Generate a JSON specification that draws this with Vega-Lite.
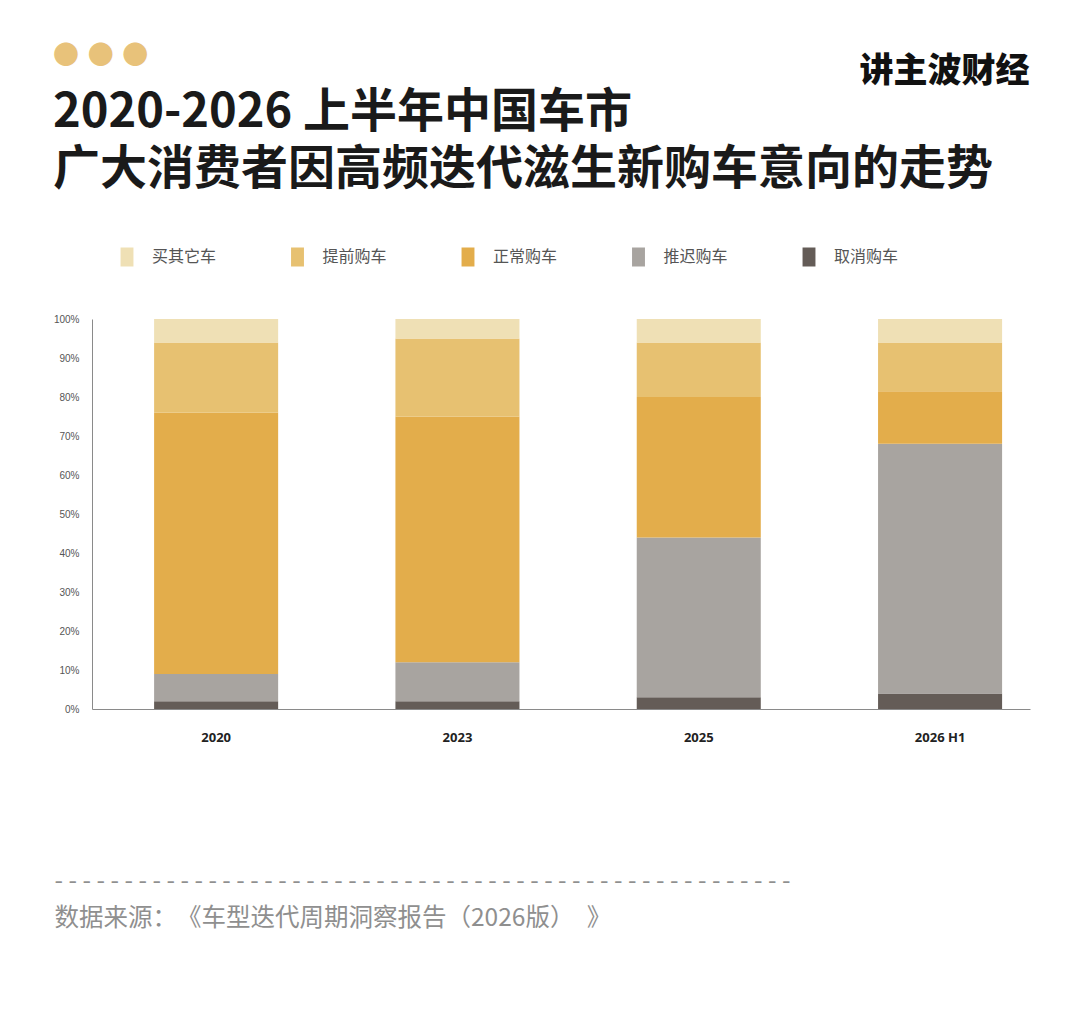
{
  "$schema": "https://vega.github.io/schema/vega-lite/v6.json",
  "autosize": {"type": "none"},
  "width": 938,
  "height": 390,
  "padding": {"top": 319, "left": 92, "right": 50, "bottom": 314},
  "background": "#ffffff",
  "data": {
    "values": [
      {"period": "2020", "cat": "取消购车", "k": 1, "pct": 2},
      {"period": "2020", "cat": "推迟购车", "k": 2, "pct": 7},
      {"period": "2020", "cat": "正常购车", "k": 3, "pct": 67},
      {"period": "2020", "cat": "提前购车", "k": 4, "pct": 18},
      {"period": "2020", "cat": "买其它车", "k": 5, "pct": 6},
      {"period": "2023", "cat": "取消购车", "k": 1, "pct": 2},
      {"period": "2023", "cat": "推迟购车", "k": 2, "pct": 10},
      {"period": "2023", "cat": "正常购车", "k": 3, "pct": 63},
      {"period": "2023", "cat": "提前购车", "k": 4, "pct": 20},
      {"period": "2023", "cat": "买其它车", "k": 5, "pct": 5},
      {"period": "2025", "cat": "取消购车", "k": 1, "pct": 3},
      {"period": "2025", "cat": "推迟购车", "k": 2, "pct": 41},
      {"period": "2025", "cat": "正常购车", "k": 3, "pct": 36},
      {"period": "2025", "cat": "提前购车", "k": 4, "pct": 14},
      {"period": "2025", "cat": "买其它车", "k": 5, "pct": 6},
      {"period": "2026 H1", "cat": "取消购车", "k": 1, "pct": 4},
      {"period": "2026 H1", "cat": "推迟购车", "k": 2, "pct": 64},
      {"period": "2026 H1", "cat": "正常购车", "k": 3, "pct": 13.5},
      {"period": "2026 H1", "cat": "提前购车", "k": 4, "pct": 12.5},
      {"period": "2026 H1", "cat": "买其它车", "k": 5, "pct": 6}
    ]
  },
  "mark": {"type": "bar"},
  "encoding": {
    "x": {
      "field": "period",
      "type": "nominal",
      "sort": ["2020", "2023", "2025", "2026 H1"],
      "scale": {"paddingInner": 0.486, "paddingOuter": 0.1865, "align": 0.69},
      "axis": {
        "labelAngle": 0,
        "labelFont": "Open Sans",
        "labelFontSize": 13,
        "labelFontWeight": "bold",
        "labelColor": "#222222",
        "labelPadding": 22,
        "ticks": false,
        "domainColor": "#8a8a8a",
        "domainWidth": 1,
        "title": ["- - - - - - - - - - - - - - - - - - - - - - - - - - - - - - - - - - - - - - - - - - - - - - - - - - - - -", "数据来源：\u200b《车型迭代周期洞察报告（2026版）\u2002》"],
        "titleFont": "Noto Sans CJK SC",
        "titleFontSize": 24.5,
        "titleFontWeight": "normal",
        "titleColor": "#8f8f8f",
        "titleAlign": "left",
        "titleAnchor": "start",
        "titleX": -38,
        "titleY": 179,
        "titleBaseline": "alphabetic",
        "titleLineHeight": 37
      }
    },
    "y": {
      "field": "pct",
      "type": "quantitative",
      "stack": "zero",
      "scale": {"domain": [0, 100], "nice": false},
      "axis": {
        "values": [0, 10, 20, 30, 40, 50, 60, 70, 80, 90, 100],
        "labelExpr": "datum.value + '%'",
        "labelFont": "Liberation Sans",
        "labelFontSize": 10,
        "labelColor": "#555555",
        "labelPadding": 13,
        "ticks": false,
        "grid": false,
        "domainColor": "#8a8a8a",
        "domainWidth": 1,
        "title": "讲主波财经",
        "titleAngle": 0,
        "titleX": 852,
        "titleY": -248,
        "titleAlign": "center",
        "titleBaseline": "middle",
        "titleFont": "Noto Sans CJK SC",
        "titleFontSize": 34,
        "titleFontWeight": 900,
        "titleColor": "#111111"
      }
    },
    "color": {
      "field": "cat",
      "type": "nominal",
      "scale": {
        "domain": ["买其它车", "提前购车", "正常购车", "推迟购车", "取消购车"],
        "range": ["#efe0b5", "#e7c171", "#e3ad4b", "#a8a4a0", "#645c57"]
      },
      "legend": {
        "orient": "none",
        "legendX": 25.5,
        "legendY": -71.5,
        "direction": "horizontal",
        "title": null,
        "symbolType": "M-0.68,-1H0.68V1H-0.68Z",
        "symbolSize": 361,
        "symbolStrokeWidth": 0,
        "labelFont": "Noto Sans CJK SC",
        "labelFontSize": 16,
        "labelColor": "#555555",
        "labelOffset": 15.5,
        "columnPadding": 71.5,
        "padding": 0
      }
    },
    "order": {"field": "k", "type": "quantitative", "sort": "ascending"}
  },
  "title": {
    "text": "●\u2004●\u2004●",
    "subtitle": ["2020-2026 上半年中国车市", "广大消费者因高频迭代滋生新购车意向的走势"],
    "anchor": "start",
    "frame": "group",
    "orient": "top",
    "dx": -39,
    "offset": -139,
    "font": "Noto Sans CJK SC",
    "fontSize": 26,
    "color": "#e8c27a",
    "subtitleFont": "Noto Sans CJK SC",
    "subtitleFontSize": 47,
    "subtitleFontWeight": "bold",
    "subtitleColor": "#1a1a1a",
    "subtitleLineHeight": 57,
    "subtitlePadding": 21
  },
  "config": {"view": {"stroke": null}}
}
